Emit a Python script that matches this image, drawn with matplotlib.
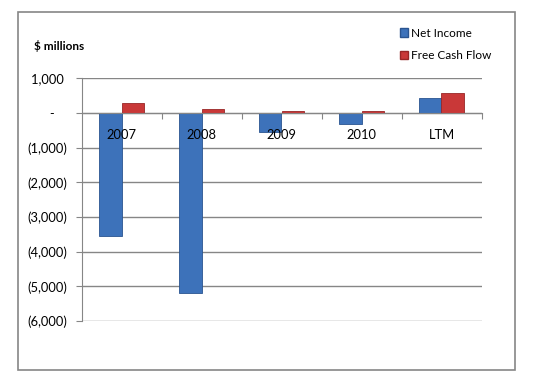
import numpy as np
import matplotlib
matplotlib.use("Agg")
import matplotlib.pyplot as plt
from matplotlib.patches import Rectangle, Patch

plt.rcParams['font.family'] = ['Lato', 'DejaVu Sans']

# data ($ millions)
categories = ["2007", "2008", "2009", "2010", "LTM"]
net_income = [-3540, -5200, -530, -320, 430]
free_cash_flow = [290, 120, 50, 50, 580]

y_ticks = [1000, 0, -1000, -2000, -3000, -4000, -5000, -6000]
y_labels = ["1,000 ", "-    ", "(1,000)", "(2,000)", "(3,000)", "(4,000)", "(5,000)", "(6,000)"]

blue = "#3D72BA"
blue_edge = "#2A5490"
red = "#C93838"
red_edge = "#982626"
grey = "#868686"

fig = plt.figure(figsize=(5.37, 3.8), dpi=100)
fig.patch.set_facecolor("white")

# outer chart border
fig.patches.append(Rectangle((18 / 537, 1 - 370 / 380), (515 - 18) / 537, (370 - 12) / 380,
                             transform=fig.transFigure, fill=False, edgecolor=grey, linewidth=1.2))

ax = fig.add_axes([81.5 / 537, 1 - 321 / 380, 400 / 537, (321 - 78.5) / 380])

x = np.arange(len(categories))
w = 0.28
ax.bar(x - w / 2, net_income, w, color=blue, edgecolor=blue_edge, linewidth=0.6, zorder=3)
ax.bar(x + w / 2, free_cash_flow, w, color=red, edgecolor=red_edge, linewidth=0.6, zorder=3)

ax.set_xlim(-0.5, len(categories) - 0.5)
ax.set_ylim(-6000, 1000)

ax.set_yticks(y_ticks)
ax.set_yticklabels(y_labels, fontsize=9.3)
ax.yaxis.grid(True, color=grey, linewidth=1)
ax.set_axisbelow(True)

for s in ["top", "right"]:
    ax.spines[s].set_visible(False)
ax.spines["left"].set_color(grey)
ax.spines["bottom"].set_position(("data", 0))
ax.spines["bottom"].set_color(grey)
ax.spines["bottom"].set_zorder(4)

ax.tick_params(axis="y", length=4, color=grey, pad=6)
ax.set_xticks(np.arange(len(categories)) + 0.5)
ax.set_xticklabels([])
ax.tick_params(axis="x", length=4, color=grey, direction="out")

# category labels sit just under the zero line, drawn over the bars
for xi, lab in zip(x, categories):
    ax.text(xi, -620, lab, ha="center", va="center", fontsize=9.3, zorder=6)

fig.text(34 / 537, 1 - 46 / 380, "$ millions", fontsize=8.5, fontweight="bold", va="center", ha="left")

handles = [Patch(facecolor=blue, edgecolor=blue_edge), Patch(facecolor=red, edgecolor=red_edge)]
fig.legend(handles, ["Net Income", "Free Cash Flow"], loc="upper left",
           bbox_to_anchor=(389 / 537, 1 - 17 / 380), frameon=False, fontsize=8.5,
           handlelength=0.7, handleheight=0.7, handletextpad=0.3, labelspacing=1.0)

fig.savefig("out.png", dpi=100)
